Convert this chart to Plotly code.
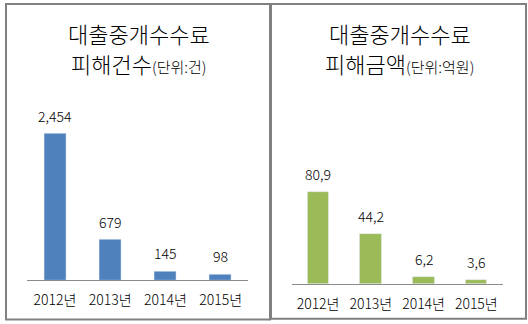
import plotly.graph_objects as go

W, H = 528, 324

years = ["2012년", "2013년", "2014년", "2015년"]
cases = [2454, 679, 145, 98]
case_labels = ["2,454", "679", "145", "98"]
amounts = [80.9, 44.2, 6.2, 3.6]
amount_labels = ["80,9", "44,2", "6,2", "3,6"]

title1_left = "대출중개수수료"
title2_left = "피해건수"
unit_left = "(단위:건)"
title1_right = "대출중개수수료"
title2_right = "피해금액"
unit_right = "(단위:억원)"

FONT = "Noto Sans CJK KR, Noto Sans, sans-serif"
BLUE = "#4F81BD"
GREEN = "#9BBB59"
AXIS = "#8C8C8C"
BORDER = "#808080"


def px(x):
    return x / W


def py(y):
    return 1 - y / H


fig = go.Figure()
fig.add_trace(go.Bar(x=years, y=cases, marker_color=BLUE, width=0.4,
                     xaxis="x", yaxis="y", showlegend=False, hoverinfo="skip"))
fig.add_trace(go.Bar(x=years, y=amounts, marker_color=GREEN, width=0.41,
                     xaxis="x2", yaxis="y2", showlegend=False, hoverinfo="skip"))

num_font = dict(family=FONT, size=14, color="#000000", weight=300)

annotations = []
for xv, yv, lab in zip(years, cases, case_labels):
    annotations.append(dict(x=xv, y=yv, xref="x", yref="y", text=lab, showarrow=False,
                            yshift=18, yanchor="middle", font=num_font))
for xv, yv, lab in zip(years, amounts, amount_labels):
    annotations.append(dict(x=xv, y=yv, xref="x2", yref="y2", text=lab, showarrow=False,
                            yshift=18, yanchor="middle", font=num_font))

for cx, t1, t2, u in [(138.5, title1_left, title2_left, unit_left),
                      (399.5, title1_right, title2_right, unit_right)]:
    annotations.append(dict(x=px(cx), y=py(33), xref="paper", yref="paper", text=t1,
                            showarrow=False, xanchor="center", yanchor="middle",
                            font=dict(family=FONT, size=22, color="#000000", weight=300)))
    annotations.append(dict(x=px(cx), y=py(63), xref="paper", yref="paper",
                            text=t2 + '<span style="font-size:15px">' + u + "</span>",
                            showarrow=False, xanchor="center", yanchor="middle",
                            font=dict(family=FONT, size=22, color="#000000", weight=300)))

shapes = [
    dict(type="rect", xref="paper", yref="paper", x0=px(6), x1=px(270), y0=py(319.5), y1=py(4),
         line=dict(color=BORDER, width=2)),
    dict(type="rect", xref="paper", yref="paper", x0=px(271), x1=px(526), y0=py(318.8), y1=py(4),
         line=dict(color=BORDER, width=2)),
]

xaxis_common = dict(showline=True, linecolor=AXIS, linewidth=1, ticks="", showgrid=False,
                    zeroline=False, tickfont=num_font,
                    ticklabelstandoff=7, fixedrange=True)
yaxis_common = dict(visible=False, showgrid=False, zeroline=False, fixedrange=True)

fig.update_layout(
    width=W, height=H,
    margin=dict(l=0, r=0, t=0, b=0),
    paper_bgcolor="#FFFFFF", plot_bgcolor="#FFFFFF",
    bargap=0,
    xaxis=dict(domain=[px(27.3), px(248.3)], anchor="y", **xaxis_common),
    yaxis=dict(domain=[py(280), py(101.5)], range=[0, 3000], anchor="x", **yaxis_common),
    xaxis2=dict(domain=[px(291.7), px(502.7)], anchor="y2", **xaxis_common),
    yaxis2=dict(domain=[py(284), py(169.9)], range=[0, 100], anchor="x2", **yaxis_common),
    annotations=annotations,
    shapes=shapes,
)

fig.write_html("out.html", config={"displayModeBar": False})
